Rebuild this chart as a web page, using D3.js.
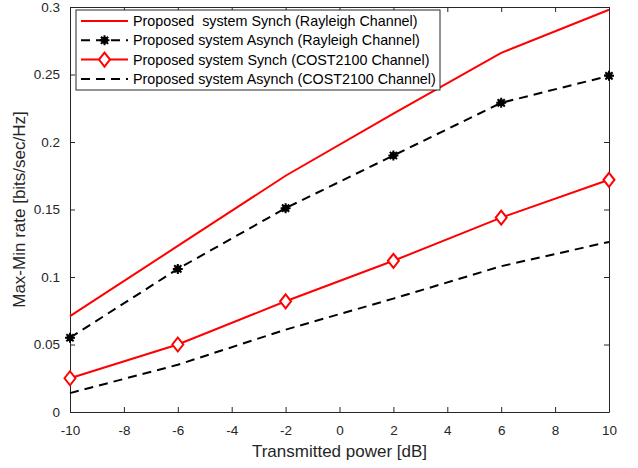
<!DOCTYPE html>
<html>
<head>
<meta charset="utf-8">
<script src="https://cdn.jsdelivr.net/npm/d3@7"></script>
<style>
  body { margin: 0; background: #fff; }
  text { font-family: "Liberation Sans", Arial, sans-serif; }
</style>
</head>
<body>
<div id="chart"></div>
<script>
// chart data
const powerDb = [-10, -6, -2, 2, 6, 10];
const syncRayleigh = [0.071, 0.123, 0.175, 0.221, 0.266, 0.298];
const asyncRayleigh = [0.055, 0.106, 0.151, 0.190, 0.229, 0.249];
const syncCost = [0.025, 0.050, 0.082, 0.112, 0.144, 0.172];
const asyncCost = [0.014, 0.035, 0.061, 0.084, 0.108, 0.126];
const xTicks = [-10, -8, -6, -4, -2, 0, 2, 4, 6, 8, 10];
const yTicks = [0, 0.05, 0.1, 0.15, 0.2, 0.25, 0.3];
const seriesNames = [
  "Proposed  system Synch (Rayleigh Channel)",
  "Proposed system Asynch (Rayleigh Channel)",
  "Proposed system Synch (COST2100 Channel)",
  "Proposed system Asynch (COST2100 Channel)"
];

var margin = { top: 7, right: 29, bottom: 56, left: 70 };
var width = 638 - margin.left - margin.right;
var height = 468 - margin.top - margin.bottom;
const axisColor = "#262626";

var svg = d3.select("#chart").append("svg")
    .attr("width", 638)
    .attr("height", 468);

var g = svg.append("g")
    .attr("transform", "translate(" + margin.left + "," + margin.top + ")");

const x = d3.scaleLinear().domain([-10, 10]).range([0, width]);
const y = d3.scaleLinear().domain([0, 0.3]).range([height, 0]);

// axes (ticks pointing inward, box on)
function styleAxis(sel) {
    sel.select(".domain").attr("stroke", axisColor);
    sel.selectAll(".tick line").attr("stroke", axisColor);
    sel.selectAll(".tick text").attr("fill", axisColor)
        .style("font-size", "13.5px");
}

g.append("g")
    .attr("transform", `translate(0,${height})`)
    .call(d3.axisBottom(x).tickValues(xTicks).tickSizeInner(-5).tickSizeOuter(0).tickPadding(13)
        .tickFormat(d => String(d)))
    .call(styleAxis);

g.append("g")
    .call(d3.axisTop(x).tickValues(xTicks).tickSizeInner(-5).tickSizeOuter(0).tickFormat(""))
    .call(styleAxis);

g.append("g")
    .call(d3.axisLeft(y).tickValues(yTicks).tickSizeInner(-5).tickSizeOuter(0).tickPadding(10)
        .tickFormat(d => String(+d.toFixed(2))))
    .call(styleAxis);

g.append("g")
    .attr("transform", `translate(${width},0)`)
    .call(d3.axisRight(y).tickValues(yTicks).tickSizeInner(-5).tickSizeOuter(0).tickFormat(""))
    .call(styleAxis);

// axis titles
svg.append("text")
    .attr("x", margin.left + width / 2)
    .attr("y", 457)
    .attr("text-anchor", "middle")
    .attr("fill", axisColor)
    .style("font-size", "17px")
    .text("Transmitted power [dB]");

svg.append("text")
    .attr("transform", "rotate(-90)")
    .attr("x", -(margin.top + height / 2))
    .attr("y", 25)
    .attr("text-anchor", "middle")
    .attr("fill", axisColor)
    .style("font-size", "17px")
    .text("Max-Min rate [bits/sec/Hz]");

const series = [
    { values: syncRayleigh, color: "#ff0000", dash: null, marker: null },
    { values: asyncRayleigh, color: "#000000", dash: "9,6", marker: "star" },
    { values: syncCost, color: "#ff0000", dash: null, marker: "diamond" },
    { values: asyncCost, color: "#000000", dash: "9,6", marker: null }
];

const line = d3.line()
    .x((d, i) => x(powerDb[i]))
    .y(d => y(d));

function drawMarker(sel, type, color) {
    if (type === "diamond") {
        sel.append("path")
            .attr("d", "M0,-7L5.5,0L0,7L-5.5,0Z")
            .attr("fill", "#fff")
            .attr("stroke", color)
            .attr("stroke-width", 2);
    } else if (type === "star") {
        sel.append("circle").attr("r", 3.5).attr("fill", color);
        sel.append("path")
            .attr("d", "M-5,0L5,0M0,-5L0,5M-3.6,-3.6L3.6,3.6M-3.6,3.6L3.6,-3.6")
            .attr("stroke", color)
            .attr("stroke-width", 2);
    }
}

series.forEach(s => {
    g.append("path")
        .datum(s.values)
        .attr("fill", "none")
        .attr("stroke", s.color)
        .attr("stroke-width", 2)
        .attr("stroke-dasharray", s.dash)
        .attr("d", line);
    if (s.marker) {
        g.selectAll(null)
            .data(s.values)
            .enter()
            .append("g")
            .attr("transform", (d, i) => `translate(${x(powerDb[i])},${y(d)})`)
            .each(function() { drawMarker(d3.select(this), s.marker, s.color); });
    }
});

// legend
var legend = svg.append("g").attr("transform", "translate(76,10)");
legend.append("rect")
    .attr("width", 364)
    .attr("height", 80)
    .attr("fill", "#fff")
    .attr("stroke", axisColor)
    .attr("stroke-width", 1);

series.forEach((s, i) => {
    var row = legend.append("g").attr("transform", `translate(0,${11 + i * 19.3})`);
    row.append("line")
        .attr("x1", 5).attr("x2", 52)
        .attr("stroke", s.color)
        .attr("stroke-width", 2)
        .attr("stroke-dasharray", s.dash);
    if (s.marker) {
        drawMarker(row.append("g").attr("transform", "translate(28.5,0)"), s.marker, s.color);
    }
    row.append("text")
        .attr("x", 57)
        .attr("y", 5)
        .attr("fill", "#000")
        .style("font-size", "14.3px")
        .style("white-space", "pre")
        .text(seriesNames[i]);
});
</script>
</body>
</html>
